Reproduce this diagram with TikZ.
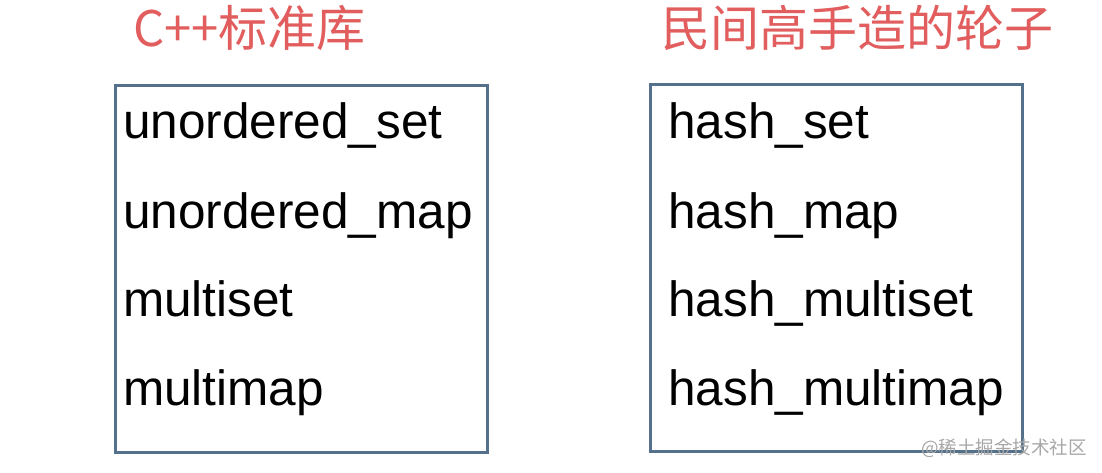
\documentclass[tikz,border=0pt]{standalone}
\usepackage{fontspec}
\setmainfont{Liberation Sans}
\newfontfamily\cjk{Noto Sans CJK SC}
\usetikzlibrary{positioning}
\definecolor{titlered}{HTML}{E25E5E}
\definecolor{boxblue}{HTML}{55708A}
\definecolor{markgray}{HTML}{A8A8A8}
\tikzset{
  headline/.style={font=\cjk\fontsize{49}{52}\selectfont, text=titlered, inner sep=0pt, anchor=base west},
  listbox/.style={draw=boxblue, line width=3pt, minimum width=372pt, minimum height=367pt, inner sep=0pt, anchor=north west},
  entry/.style={font=\fontsize{49.5}{52}\selectfont, inner sep=0pt, anchor=base west}
}

\begin{document}
\begin{tikzpicture}[x=1pt, y=-1pt]
  \useasboundingbox[fill=white] (0,0) rectangle (1102,473);
  % titles
  \node[headline] (stdtitle) at (133,47) {C++标准库};
  \node[headline] (diytitle) at (661,47) {民间高手造的轮子};
  % the two boxes
  \node[listbox] (stdbox) at (114,84) {};
  \node[listbox] (diybox) at (649,83) {};
  % standard library containers
  \node[entry] (s1) at (123,139) {unordered\_set};
  \node[entry] (s2) at (123,228) {unordered\_map};
  \node[entry] (s3) at (123,316) {multiset};
  \node[entry] (s4) at (123,405) {multimap};
  % hand-made containers
  \node[entry] (h1) at (668,139) {hash\_set};
  \node[entry] (h2) at (668,228) {hash\_map};
  \node[entry] (h3) at (668,316) {hash\_multiset};
  \node[entry] (h4) at (668,405) {hash\_multimap};
  % watermark
  \node[font=\cjk\fontsize{18.5}{20}\selectfont, text=markgray, inner sep=0pt, anchor=base east] (mark) at (1087,454) {@稀土掘金技术社区};
\end{tikzpicture}
\end{document}
